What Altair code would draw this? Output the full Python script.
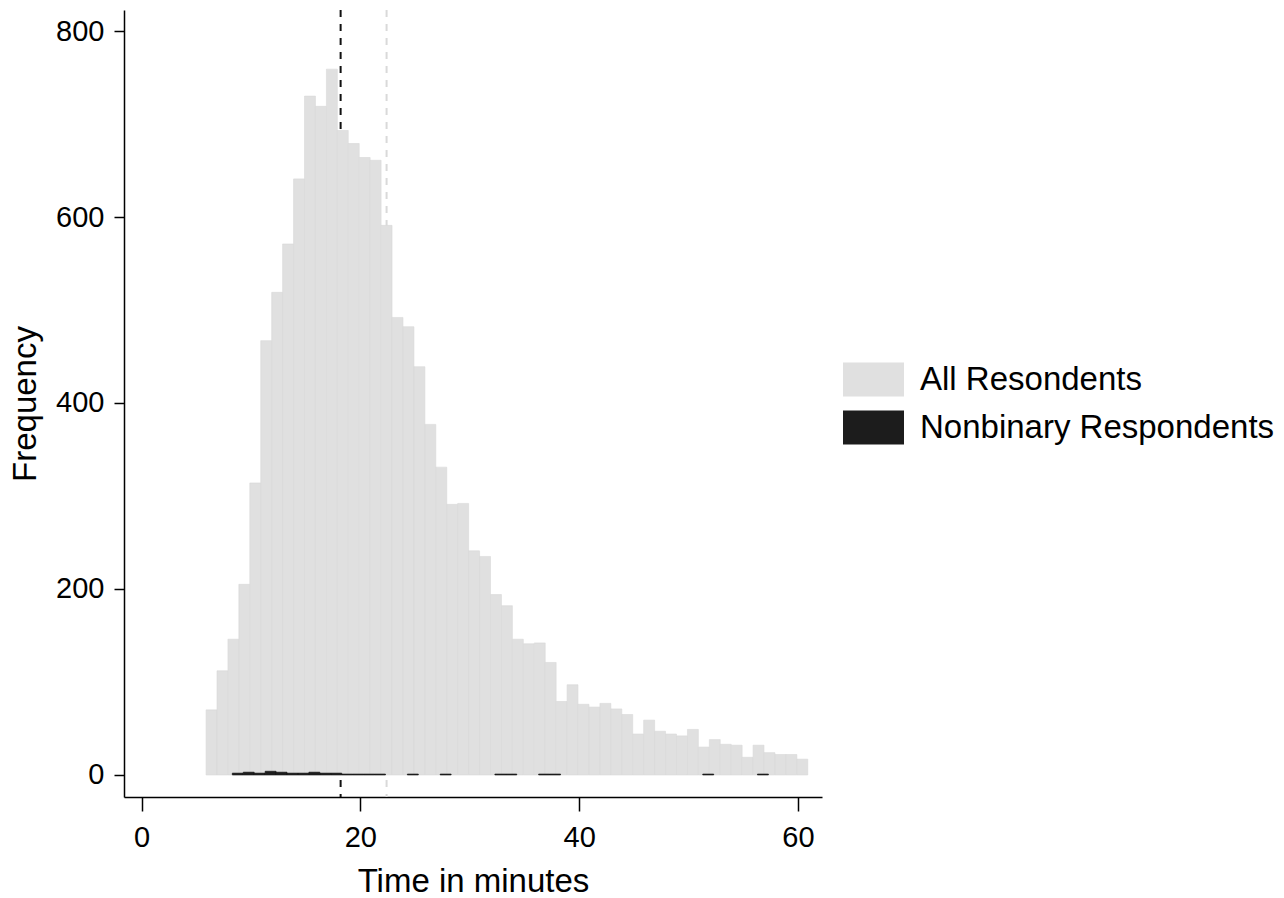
import altair as alt
import pandas as pd

# ---- data ----
series_names = ["All Resondents", "Nonbinary Respondents"]
series_fill = ["#e0e0e0", "#1c1c1c"]
series_stroke = ["#d8d8d8", "#111111"]

bin_width = 1.0
all_bin_start = 5.9
all_counts = [70, 112, 146, 205, 314, 467, 519, 571, 641, 730,
              719, 759, 693, 679, 664, 661, 591, 492, 482, 439,
              377, 331, 291, 292, 241, 235, 194, 182, 146, 141,
              142, 121, 79, 97, 76, 73, 77, 71, 65, 44,
              59, 47, 44, 42, 49, 30, 38, 33, 32, 19,
              32, 24, 22, 22, 17]

nb_bin_start = 8.3
nb_counts = [2, 3, 2, 4, 3, 2, 2, 3, 2, 2,
             1, 1, 1, 1, 0, 0, 1, 0, 0, 1,
             0, 0, 0, 0, 1, 1, 0, 0, 1, 1,
             0, 0, 0, 0, 0, 0, 0, 0, 0, 0,
             0, 0, 0, 1, 0, 0, 0, 0, 1]

median_values = [18.2, 22.4]
median_colors = ["#111111", "#d9d9d9"]

x_ticks = [0, 20, 40, 60]
y_ticks = [0, 200, 400, 600, 800]
x_domain = [-1.6, 62.2]
y_domain = [-23.7, 822.6]

# ---- tables ----
rows = []
for i, c in enumerate(all_counts):
    s = all_bin_start + i * bin_width
    rows.append({"series": series_names[0], "start": s, "end": s + bin_width, "count": c})
for i, c in enumerate(nb_counts):
    if c > 0:
        s = nb_bin_start + i * bin_width
        rows.append({"series": series_names[1], "start": s, "end": s + bin_width, "count": c})
bars_df = pd.DataFrame(rows)
rules_df = pd.DataFrame({"x": median_values, "c": median_colors})

FONT = "Liberation Sans"
x_scale = alt.Scale(domain=x_domain, nice=False, zero=False)
y_scale = alt.Scale(domain=y_domain, nice=False, zero=False)

legend_path = "M-1,-0.557L1,-0.557L1,0.557L-1,0.557Z"

rules = alt.Chart(rules_df).mark_rule(strokeDash=[7, 7], strokeWidth=2).encode(
    x=alt.X("x:Q", scale=x_scale,
            axis=alt.Axis(values=x_ticks, title="Time in minutes", format="d",
                          labelFontSize=29, titleFontSize=33, tickSize=14,
                          labelPadding=12, titlePadding=13)),
    color=alt.Color("c:N", scale=None),
)

bars = alt.Chart(bars_df).mark_rect(strokeWidth=0.6).encode(
    x=alt.X("start:Q", scale=x_scale,
            axis=alt.Axis(values=x_ticks, title="Time in minutes", format="d",
                          labelFontSize=29, titleFontSize=33, tickSize=14,
                          labelPadding=12, titlePadding=13)),
    x2="end:Q",
    y=alt.Y("count:Q", scale=y_scale,
            axis=alt.Axis(values=y_ticks, title="Frequency", format="d",
                          labelFontSize=29, titleFontSize=33, tickSize=10,
                          labelPadding=10, titlePadding=13)),
    y2=alt.datum(0),
    fill=alt.Fill("series:N", sort=series_names,
                  scale=alt.Scale(domain=series_names, range=series_fill),
                  legend=alt.Legend(title=None, orient="none", legendX=719, legendY=339,
                                    symbolType=legend_path, symbolSize=3721,
                                    symbolStrokeWidth=0, symbolOpacity=1,
                                    labelFontSize=33, labelOffset=16,
                                    rowPadding=-14, padding=0,
                                    labelFont=FONT, labelColor="#000000",
                                    labelLimit=600)),
    stroke=alt.Stroke("series:N", sort=series_names,
                      scale=alt.Scale(domain=series_names, range=series_stroke),
                      legend=None),
)

chart = alt.layer(rules, bars).resolve_axis(x="shared").properties(
    width=698, height=787,
    autosize=alt.AutoSizeParams(type="none"),
    padding={"left": 124, "top": 10, "right": 462, "bottom": 101},
    background="white",
).configure_view(strokeWidth=0).configure_axis(
    labelFont=FONT, titleFont=FONT, labelColor="#000000", titleColor="#000000",
    titleFontWeight="normal", domainColor="#000000", tickColor="#000000",
    domainWidth=1.5, tickWidth=1.5, grid=False,
).configure_legend(labelFont=FONT)

chart.save("out.html", embed_options={"renderer": "svg", "actions": False})
